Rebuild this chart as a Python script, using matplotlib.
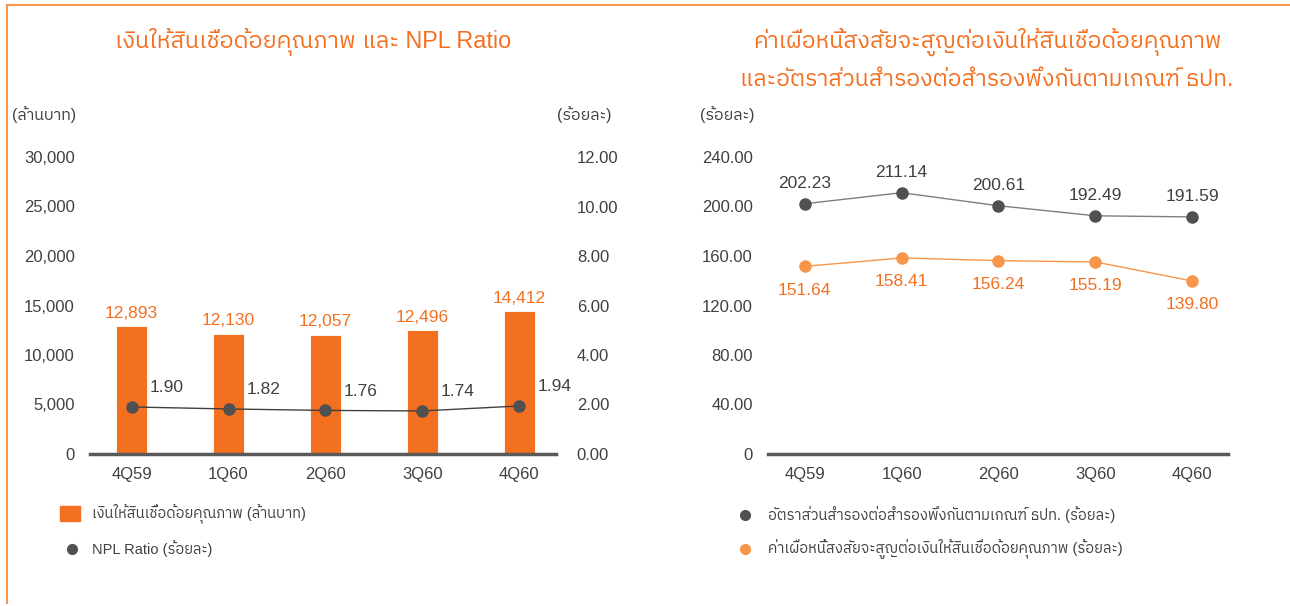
import matplotlib
matplotlib.use("Agg")
import matplotlib.pyplot as plt
from matplotlib.lines import Line2D
from matplotlib.patches import Rectangle

plt.rcParams['font.family'] = ['Liberation Sans', 'IBM Plex Sans Thai']

# data
quarters = ["4Q59", "1Q60", "2Q60", "3Q60", "4Q60"]
npl_amount = [12893, 12130, 12057, 12496, 14412]      # ล้านบาท
npl_ratio = [1.90, 1.82, 1.76, 1.74, 1.94]            # ร้อยละ
reserve_ratio = [202.23, 211.14, 200.61, 192.49, 191.59]
coverage_ratio = [151.64, 158.41, 156.24, 155.19, 139.80]

left_ticks = [0, 5000, 10000, 15000, 20000, 25000, 30000]
right_ticks = [0, 2, 4, 6, 8, 10, 12]
pct_ticks = [0, 40, 80, 120, 160, 200, 240]

ORANGE = "#F37021"
LIGHT_ORANGE = "#F7964A"
DARK = "#505050"
TXT = "#404040"

W, H = 1290, 606
fig = plt.figure(figsize=(W / 100, H / 100), dpi=100)


def px_axes(x0, x1, ytop, ybot):
    return fig.add_axes([x0 / W, (H - ybot) / H, (x1 - x0) / W, (ybot - ytop) / H])


# frame lines
fig.add_artist(Line2D([7 / W, 1], [1 - 5 / H, 1 - 5 / H], color=LIGHT_ORANGE, lw=1.5))
fig.add_artist(Line2D([7 / W, 7 / W], [1 - 5 / H, 3 / H], color=LIGHT_ORANGE, lw=1.5))

x = list(range(len(quarters)))

# ---------- left chart ----------
ax = px_axes(90, 556, 157, 454)
ax.bar(x, npl_amount, width=0.32, color=ORANGE, edgecolor="white", linewidth=0.6, zorder=2)
ax.set_ylim(0, 30000)
ax.set_xlim(-0.43, 4.38)
ax.set_yticks(left_ticks)
ax.set_yticklabels([f"{v:,}" for v in left_ticks])
ax.set_xticks(x)
ax.set_xticklabels(quarters)
for i, v in enumerate(npl_amount):
    ax.annotate(f"{v:,}", (i, v), xytext=(0, 13), textcoords="offset pixels",
                ha="center", va="center", color=ORANGE, fontsize=12.5)

ax2 = ax.twinx()
ax2.set_ylim(0, 12)
ax2.set_yticks(right_ticks)
ax2.set_yticklabels([f"{v:.2f}" for v in right_ticks])
ax2.plot(x, npl_ratio, color=TXT, lw=1, marker="o", ms=8, mfc=DARK, mec=DARK, zorder=3)
for i, v in enumerate(npl_ratio):
    ax2.annotate(f"{v:.2f}", (i, v), xytext=(18, 19), textcoords="offset pixels",
                 ha="left", va="center", color=TXT, fontsize=12.5)

for a in (ax, ax2):
    for s in a.spines.values():
        s.set_visible(False)
    a.tick_params(length=0, labelsize=12, labelcolor=TXT)
ax.spines["bottom"].set_visible(True)
ax.spines["bottom"].set_color("#595959")
ax.spines["bottom"].set_linewidth(2.5)
ax.tick_params(axis="y", pad=11)
ax.tick_params(axis="x", pad=9)
ax2.tick_params(axis="y", pad=15)

fig.text(313 / W, 1 - 42 / H, "เงินให้สินเชื่อด้อยคุณภาพ และ NPL Ratio",
         ha="center", va="center", color=ORANGE, fontsize=16.8)
fig.text(12 / W, 1 - 115 / H, "(ล้านบาท)", ha="left", va="center", color=TXT, fontsize=11.5)
fig.text(612 / W, 1 - 115 / H, "(ร้อยละ)", ha="right", va="center", color=TXT, fontsize=11.5)

# left legend
fig.add_artist(Rectangle((60 / W, 1 - 521 / H), 20 / W, 15 / H, color=ORANGE))
fig.text(92 / W, 1 - 513 / H, "เงินให้สินเชื่อด้อยคุณภาพ (ล้านบาท)", ha="left", va="center",
         color=TXT, fontsize=10.5)
fig.add_artist(Line2D([72 / W], [1 - 549 / H], marker="o", ms=7, color=DARK, lw=0))
fig.text(92 / W, 1 - 549 / H, "NPL Ratio (ร้อยละ)", ha="left", va="center",
         color=TXT, fontsize=10.5)

# ---------- right chart ----------
bx = px_axes(768, 1228, 157, 454)
bx.set_ylim(0, 240)
bx.set_xlim(-0.38, 4.37)
bx.plot(x, reserve_ratio, color="#7F7F7F", lw=1, marker="o", ms=8, mfc=DARK, mec=DARK, zorder=3)
bx.plot(x, coverage_ratio, color=LIGHT_ORANGE, lw=1, marker="o", ms=8,
        mfc=LIGHT_ORANGE, mec=LIGHT_ORANGE, zorder=3)
for i, v in enumerate(reserve_ratio):
    bx.annotate(f"{v:.2f}", (i, v), xytext=(0, 20), textcoords="offset pixels",
                ha="center", va="center", color=TXT, fontsize=12.5)
for i, v in enumerate(coverage_ratio):
    bx.annotate(f"{v:.2f}", (i, v), xytext=(0, -24), textcoords="offset pixels",
                ha="center", va="center", color=ORANGE, fontsize=12.5)
bx.set_yticks(pct_ticks)
bx.set_yticklabels(["0" if v == 0 else f"{v:.2f}" for v in pct_ticks])
bx.set_xticks(x)
bx.set_xticklabels(quarters)
for s in bx.spines.values():
    s.set_visible(False)
bx.spines["bottom"].set_visible(True)
bx.spines["bottom"].set_color("#595959")
bx.spines["bottom"].set_linewidth(2.5)
bx.tick_params(length=0, labelsize=12, labelcolor=TXT)
bx.tick_params(axis="y", pad=11)
bx.tick_params(axis="x", pad=9)

fig.text(987 / W, 1 - 42 / H, "ค่าเผื่อหนี้สงสัยจะสูญต่อเงินให้สินเชื่อด้อยคุณภาพ",
         ha="center", va="center", color=ORANGE, fontsize=16.6)
fig.text(987 / W, 1 - 80 / H, "และอัตราส่วนสำรองต่อสำรองพึงกันตามเกณฑ์ ธปท.",
         ha="center", va="center", color=ORANGE, fontsize=16.6)
fig.text(700 / W, 1 - 115 / H, "(ร้อยละ)", ha="left", va="center", color=TXT, fontsize=11.5)

# right legend
fig.add_artist(Line2D([745 / W], [1 - 515 / H], marker="o", ms=7, color=DARK, lw=0))
fig.text(768 / W, 1 - 515 / H, "อัตราส่วนสำรองต่อสำรองพึงกันตามเกณฑ์ ธปท. (ร้อยละ)",
         ha="left", va="center", color=TXT, fontsize=10.6)
fig.add_artist(Line2D([745 / W], [1 - 549 / H], marker="o", ms=7, color=LIGHT_ORANGE, lw=0))
fig.text(768 / W, 1 - 549 / H, "ค่าเผื่อหนี้สงสัยจะสูญต่อเงินให้สินเชื่อด้อยคุณภาพ (ร้อยละ)",
         ha="left", va="center", color=TXT, fontsize=10.6)

fig.savefig("out.png", dpi=100)
